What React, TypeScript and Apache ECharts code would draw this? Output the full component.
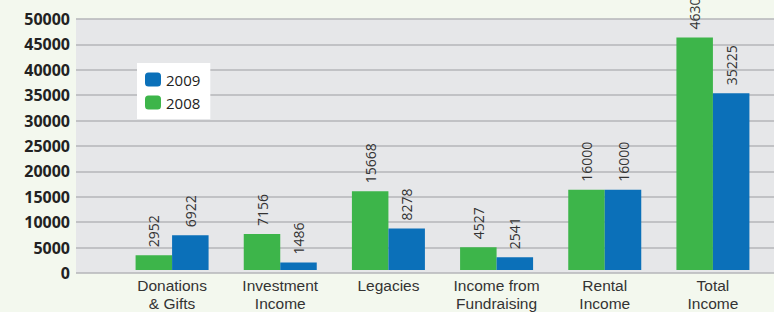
import React, { useEffect, useRef } from "react";
import * as echarts from "echarts";

const categories = [
  "Donations\n& Gifts",
  "Investment\nIncome",
  "Legacies",
  "Income from\nFundraising",
  "Rental\nIncome",
  "Total\nIncome",
];
const values2008 = [2952, 7156, 15668, 4527, 16000, 46303];
const values2009 = [6922, 1486, 8278, 2541, 16000, 35225];
const yTicks = { min: 0, max: 50000, interval: 5000 };

const GREEN = "#3db54a";
const BLUE = "#0b70b9";
const FONT = "'Open Sans', 'Noto Sans', sans-serif";
const CAT_FONT = "'Liberation Sans', Arial, sans-serif";

export default function App() {
  const ref = useRef<HTMLDivElement>(null);
  useEffect(() => {
    if (!ref.current) return;
    const chart = echarts.init(ref.current, null, { renderer: "svg" });
    const label = {
      show: true,
      position: "top" as const,
      rotate: 90,
      align: "left" as const,
      verticalAlign: "middle" as const,
      distance: 8,
      color: "#333",
      fontSize: 14,
      fontFamily: FONT,
    };
    chart.setOption({
      animation: false,
      backgroundColor: "#f3f8ee",
      grid: [
        { left: 76, right: 0, top: 19, bottom: 39, show: true, backgroundColor: "#e6e7e9", borderWidth: 0 },
        { left: 118, right: 7, top: 19, bottom: 39 },
      ],
      xAxis: [
        { type: "value", gridIndex: 0, show: false, min: 0, max: 1 },
        {
          type: "category",
          gridIndex: 1,
          data: categories,
          axisLine: { show: false },
          axisTick: { show: false },
          axisLabel: { color: "#333", fontSize: 15.5, fontFamily: CAT_FONT, margin: 7, lineHeight: 17.5, interval: 0 },
        },
      ],
      yAxis: [
        {
          type: "value",
          gridIndex: 0,
          ...yTicks,
          axisLine: { show: false },
          axisTick: { show: false },
          axisLabel: {
            color: "#222",
            fontSize: 16,
            fontWeight: "bold",
            fontFamily: FONT,
            margin: 6,
            formatter: (v: number) => String(v),
          },
          splitLine: { lineStyle: { color: "#b5b6b8", width: 1.5 } },
        },
        { type: "value", gridIndex: 1, ...yTicks, show: false, splitLine: { show: false } },
      ],
      legend: {
        data: ["2009", "2008"],
        orient: "vertical",
        left: 137,
        top: 63,
        backgroundColor: "#ffffff",
        padding: [9, 10, 9, 8],
        itemWidth: 16,
        itemHeight: 14,
        itemGap: 8,
        textStyle: { color: "#222", fontSize: 15, fontFamily: FONT },
      },
      series: [
        {
          name: "2008",
          type: "bar",
          xAxisIndex: 1,
          yAxisIndex: 1,
          data: values2008,
          barWidth: 36.5,
          barGap: "0%",
          itemStyle: { color: GREEN },
          label,
        },
        {
          name: "2009",
          type: "bar",
          xAxisIndex: 1,
          yAxisIndex: 1,
          data: values2009,
          barWidth: 36.5,
          barGap: "0%",
          itemStyle: { color: BLUE },
          label,
        },
      ],
    });
    return () => chart.dispose();
  }, []);
  return <div ref={ref} style={{ position: "fixed", left: 0, top: 0, width: 774, height: 312 }} />;
}
